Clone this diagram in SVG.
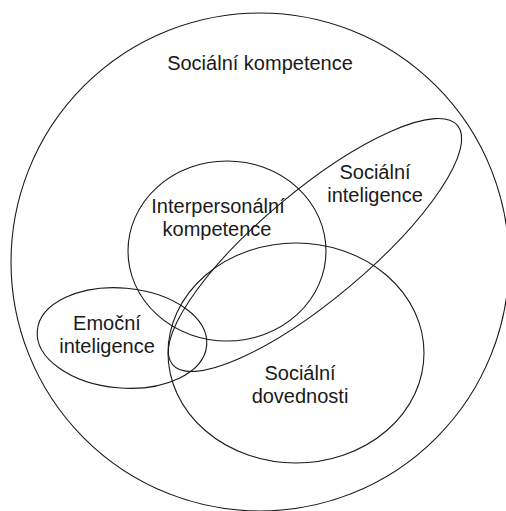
<svg xmlns="http://www.w3.org/2000/svg" width="506" height="511" viewBox="0 0 506 511">
<style>
.s{fill:none;stroke:#1a1a1a;stroke-width:1.1}
text{font-family:"Liberation Sans",Arial,sans-serif;font-size:20px;fill:#1a1a1a;text-anchor:middle}
</style>
<rect width="506" height="511" fill="#fff"/>
<g id="socialni-kompetence">
<circle class="s" cx="260" cy="262" r="249"/>
<text x="260" y="70">Sociální kompetence</text>
</g>
<g id="interpersonalni-kompetence">
<ellipse class="s" cx="227" cy="251" rx="99" ry="90"/>
<text x="218" y="213">Interpersonální</text>
<text x="217" y="236">kompetence</text>
</g>
<g id="socialni-dovednosti">
<ellipse class="s" cx="296" cy="353" rx="128" ry="110"/>
<text x="300" y="380">Sociální</text>
<text x="300" y="403">dovednosti</text>
</g>
<g id="emocni-inteligence">
<ellipse class="s" cx="122" cy="338" rx="85" ry="50" transform="rotate(5 122 338)"/>
<text x="107" y="330">Emoční</text>
<text x="107" y="353">inteligence</text>
</g>
<g id="socialni-inteligence">
<ellipse class="s" cx="315" cy="245" rx="186" ry="54" transform="rotate(-40 315 245)"/>
<text x="375" y="179">Sociální</text>
<text x="375" y="202">inteligence</text>
</g>
</svg>
